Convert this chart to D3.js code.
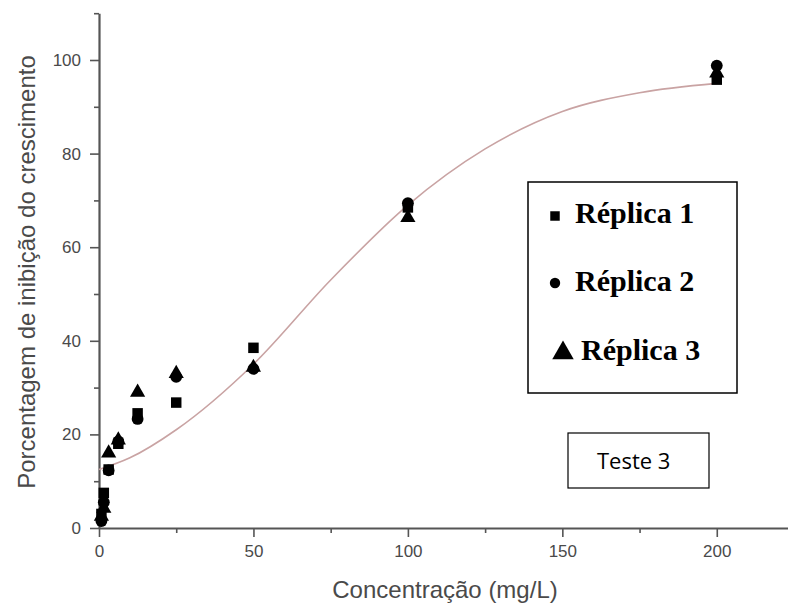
<!DOCTYPE html>
<html>
<head>
<meta charset="utf-8">
<script src="https://cdn.jsdelivr.net/npm/d3@7"></script>
<style>
html,body{margin:0;padding:0;background:#fff;}
svg{display:block;}
</style>
</head>
<body>
<svg id="chart" width="788" height="608"></svg>
<script>
// ---- data ----
const concentrations = [0.78, 1.56, 3.125, 6.25, 12.5, 25, 50, 100, 200];
const replica1 = [3.0, 7.5, 12.5, 18.0, 24.5, 26.8, 38.5, 68.5, 95.8];   // squares
const replica2 = [1.5, 5.5, 12.3, 18.5, 23.3, 32.3, 34.0, 69.4, 98.8];   // circles
const replica3 = [2.5, 4.2, 16.0, 18.8, 29.0, 33.0, 34.3, 66.3, 97.2];   // triangles
const fitX = [0, 10, 25, 50, 75, 100, 125, 150, 175, 200];
const fitY = [12.5, 15, 21, 35, 53, 69, 81, 89, 93, 95];
const xMajorTicks = [0, 50, 100, 150, 200];
const xMinorTicks = [25, 75, 125, 175, 225];
const yMajorTicks = [0, 20, 40, 60, 80, 100];
const yMinorTicks = [10, 30, 50, 70, 90, 110];
const legendLabels = ["Réplica 1", "Réplica 2", "Réplica 3"];
const boxLabel = "Teste 3";
const xTitle = "Concentração (mg/L)";
const yTitle = "Porcentagem de inibição do crescimento";

const svg = d3.select("#chart");
const x = d3.scaleLinear().domain([0, 225]).range([99, 794]);
const y = d3.scaleLinear().domain([0, 110]).range([528, 13.2]);
const axisColor = "#555";
const textColor = "#4a4a4a";

// x axis
const gx = svg.append("g").attr("transform", "translate(0,528)");
gx.call(d3.axisBottom(x).tickValues(xMajorTicks).tickSize(9).tickSizeOuter(0).tickPadding(8));
const gxm = svg.append("g").attr("transform", "translate(0,528)");
gxm.call(d3.axisBottom(x).tickValues(xMinorTicks).tickSize(5).tickSizeOuter(0).tickFormat(""));
gxm.select(".domain").remove();

// y axis
const gy = svg.append("g").attr("transform", "translate(99,0)");
gy.call(d3.axisLeft(y).tickValues(yMajorTicks).tickSize(9).tickSizeOuter(0).tickPadding(9));
const gym = svg.append("g").attr("transform", "translate(99,0)");
gym.call(d3.axisLeft(y).tickValues(yMinorTicks).tickSize(5).tickSizeOuter(0).tickFormat(""));
gym.select(".domain").remove();

svg.selectAll(".domain").attr("stroke", axisColor).attr("stroke-width", 2.2);
svg.selectAll(".tick line").attr("stroke", axisColor).attr("stroke-width", 1.6);
svg.selectAll(".tick text").attr("fill", textColor)
  .style("font-family", "Liberation Sans, Arial, sans-serif").style("font-size", "17px");

// axis titles
svg.append("text").attr("x", 445).attr("y", 598).attr("text-anchor", "middle")
  .attr("fill", textColor).style("font-family", "Liberation Sans, Arial, sans-serif")
  .style("font-size", "24px").text(xTitle);
svg.append("text").attr("transform", "translate(35,272) rotate(-90)").attr("text-anchor", "middle")
  .attr("fill", textColor).style("font-family", "Liberation Sans, Arial, sans-serif")
  .style("font-size", "24px").text(yTitle);

// fit curve
const fit = fitX.map((d, i) => [d, fitY[i]]);
svg.append("path").datum(fit)
  .attr("d", d3.line().x(d => x(d[0])).y(d => y(d[1])).curve(d3.curveMonotoneX))
  .attr("fill", "none").attr("stroke", "#c9a3a3").attr("stroke-width", 1.6);

// points
const series = [
  {vals: replica1, sym: d3.symbolSquare, size: 110},
  {vals: replica2, sym: d3.symbolCircle, size: 110},
  {vals: replica3, sym: d3.symbolTriangle, size: 100}
];
series.forEach(s => {
  svg.append("g").selectAll("path").data(s.vals).join("path")
    .attr("transform", (d, i) => `translate(${x(concentrations[i])},${y(d)})`)
    .attr("d", d3.symbol().type(s.sym).size(s.size))
    .attr("fill", "#000");
});

// legend box
svg.append("rect").attr("x", 528).attr("y", 182).attr("width", 209).attr("height", 211)
  .attr("fill", "#fff").attr("stroke", "#000").attr("stroke-width", 1.5);
const legendRows = [
  {sym: d3.symbolSquare, size: 90, sx: 555, sy: 216, tx: 575, ty: 223},
  {sym: d3.symbolCircle, size: 85, sx: 555, sy: 283, tx: 575, ty: 291},
  {sym: d3.symbolTriangle, size: 200, sx: 563, sy: 353, tx: 581, ty: 360}
];
legendRows.forEach((r, i) => {
  svg.append("path").attr("transform", `translate(${r.sx},${r.sy})`)
    .attr("d", d3.symbol().type(r.sym).size(r.size)).attr("fill", "#000");
  svg.append("text").attr("x", r.tx).attr("y", r.ty)
    .style("font-family", "Liberation Serif, Times New Roman, serif")
    .style("font-weight", "bold").style("font-size", "30px").attr("fill", "#000")
    .text(legendLabels[i]);
});

// Teste 3 box
svg.append("rect").attr("x", 568).attr("y", 433).attr("width", 141).attr("height", 55)
  .attr("fill", "#fff").attr("stroke", "#000").attr("stroke-width", 1.2);
svg.append("text").attr("x", 597).attr("y", 469)
  .style("font-family", "Open Sans, Liberation Sans, sans-serif").style("font-size", "22px")
  .attr("fill", "#000").text(boxLabel);
</script>
</body>
</html>
